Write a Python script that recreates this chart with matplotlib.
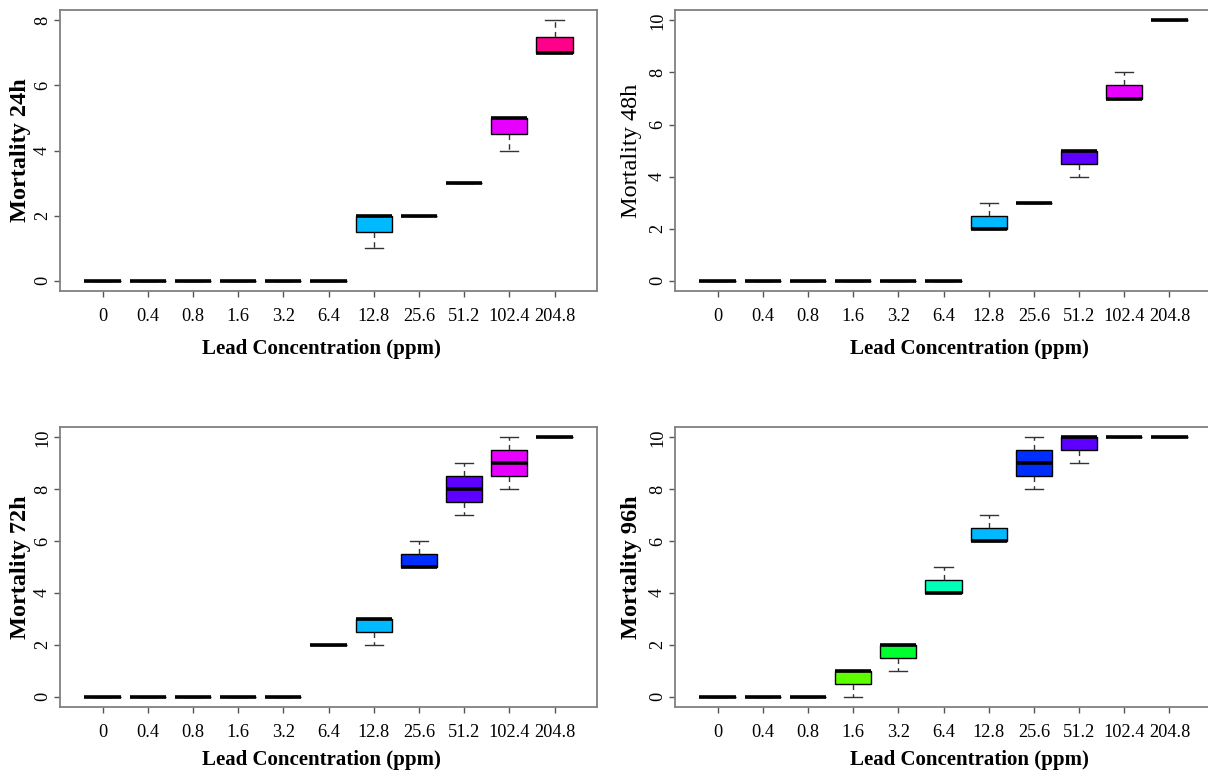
import matplotlib
matplotlib.use("Agg")
import matplotlib.pyplot as plt

plt.rcParams['font.family'] = ['Liberation Serif', 'DejaVu Serif']

concentrations = ["0", "0.4", "0.8", "1.6", "3.2", "6.4", "12.8", "25.6", "51.2", "102.4", "204.8"]

# (whisker low, Q1, median, Q3, whisker high) per concentration
mort_24h = [(0, 0, 0, 0, 0), (0, 0, 0, 0, 0), (0, 0, 0, 0, 0), (0, 0, 0, 0, 0),
            (0, 0, 0, 0, 0), (0, 0, 0, 0, 0), (1, 1.5, 2, 2, 2), (2, 2, 2, 2, 2),
            (3, 3, 3, 3, 3), (4, 4.5, 5, 5, 5), (7, 7, 7, 7.5, 8)]
mort_48h = [(0, 0, 0, 0, 0), (0, 0, 0, 0, 0), (0, 0, 0, 0, 0), (0, 0, 0, 0, 0),
            (0, 0, 0, 0, 0), (0, 0, 0, 0, 0), (2, 2, 2, 2.5, 3), (3, 3, 3, 3, 3),
            (4, 4.5, 5, 5, 5), (7, 7, 7, 7.5, 8), (10, 10, 10, 10, 10)]
mort_72h = [(0, 0, 0, 0, 0), (0, 0, 0, 0, 0), (0, 0, 0, 0, 0), (0, 0, 0, 0, 0),
            (0, 0, 0, 0, 0), (2, 2, 2, 2, 2), (2, 2.5, 3, 3, 3), (5, 5, 5, 5.5, 6),
            (7, 7.5, 8, 8.5, 9), (8, 8.5, 9, 9.5, 10), (10, 10, 10, 10, 10)]
mort_96h = [(0, 0, 0, 0, 0), (0, 0, 0, 0, 0), (0, 0, 0, 0, 0), (0, 0.5, 1, 1, 1),
            (1, 1.5, 2, 2, 2), (4, 4, 4, 4.5, 5), (6, 6, 6, 6.5, 7), (8, 8.5, 9, 9.5, 10),
            (9, 9.5, 10, 10, 10), (10, 10, 10, 10, 10), (10, 10, 10, 10, 10)]

# R rainbow(11)
box_colors = ["#FF0000", "#FF8B00", "#E8FF00", "#5DFF00", "#00FF2E", "#00FFB9",
              "#00B9FF", "#002EFF", "#5D00FF", "#E800FF", "#FF008B"]

# data, y label, weight, y ticks, y max, axes rect, xlabel pos, ylabel x
panels = [
    (mort_24h, "Mortality 24h", "bold", [0, 2, 4, 6, 8], 8,
     [0.0497, 0.6235, 0.4445, 0.3635], (0.486, -0.172), -0.055),
    (mort_48h, "Mortality 48h", "normal", [0, 2, 4, 6, 8, 10], 10,
     [0.5588, 0.6235, 0.4445, 0.3635], (0.549, -0.172), -0.062),
    (mort_72h, "Mortality 72h", "bold", [0, 2, 4, 6, 8, 10], 10,
     [0.0497, 0.0854, 0.4445, 0.3622], (0.486, -0.155), -0.055),
    (mort_96h, "Mortality 96h", "bold", [0, 2, 4, 6, 8, 10], 10,
     [0.5588, 0.0854, 0.4445, 0.3622], (0.549, -0.155), -0.062),
]

fig = plt.figure(figsize=(12.08, 7.73), dpi=100)

for data, ylab, yweight, yticks, ymax, rect, xl_pos, yl_x in panels:
    ax = fig.add_axes(rect)
    stats = [dict(whislo=lo, q1=q1, med=med, q3=q3, whishi=hi, fliers=[])
             for lo, q1, med, q3, hi in data]
    pos = list(range(1, len(data) + 1))
    bp = ax.bxp(stats, positions=pos, widths=0.8, capwidths=0.4, patch_artist=True,
                showfliers=False, manage_ticks=False,
                boxprops=dict(edgecolor="black", linewidth=1.0),
                medianprops=dict(color="black", linewidth=2.6, solid_capstyle="butt"),
                whiskerprops=dict(color="#333333", linewidth=1.0, linestyle=(0, (4, 3))),
                capprops=dict(color="#333333", linewidth=1.0))
    for patch, c in zip(bp["boxes"], box_colors):
        patch.set_facecolor(c)

    ax.set_xlim(0.06, 11.94)
    ax.set_ylim(-0.04 * ymax, ymax * 1.04)
    ax.set_xticks(pos)
    ax.set_xticklabels(concentrations)
    ax.set_yticks(yticks)
    ax.set_yticklabels([str(t) for t in yticks], rotation=90, va="center")

    for sp in ax.spines.values():
        sp.set_color("#808080")
        sp.set_linewidth(1.3)
    ax.tick_params(axis="both", direction="out", length=4.5, width=1, color="#555555",
                   labelsize=13.2, labelcolor="black")
    ax.tick_params(axis="x", pad=8)
    ax.tick_params(axis="y", pad=2)

    ax.set_xlabel("Lead Concentration (ppm)", fontsize=15, fontweight="bold")
    ax.xaxis.set_label_coords(*xl_pos)
    ax.set_ylabel(ylab, fontsize=17.5, fontweight=yweight)
    ax.yaxis.set_label_coords(yl_x, 0.5)

fig.savefig("out.png", dpi=100)
